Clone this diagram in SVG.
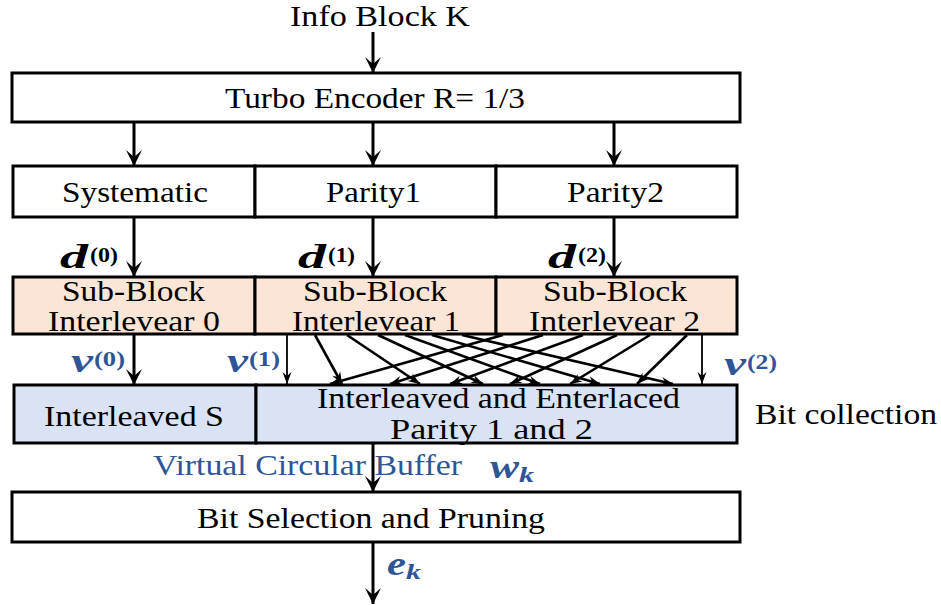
<svg xmlns="http://www.w3.org/2000/svg" width="941" height="605" viewBox="0 0 941 605">
<defs>
<style>
.box{stroke:#000;stroke-width:3;fill:#fff}
.peach{fill:#FBE5D6}
.blue{fill:#DAE3F3}
.t{font-family:"Liberation Serif","Times New Roman",serif;font-size:30px;fill:#000}
.tb{fill:#2F5597}
.m{font-family:"Liberation Serif","Times New Roman",serif;font-style:italic;font-weight:bold;font-size:33px}
.s{font-family:"Liberation Serif","Times New Roman",serif;font-weight:bold;font-size:22px}
.a{stroke:#000;stroke-width:3;fill:none;marker-end:url(#ah)}
.th{stroke:#000;stroke-width:1.8;fill:none;marker-end:url(#as)}
.x{stroke:#000;stroke-width:2.6;fill:none;marker-end:url(#as)}
</style>
<marker id="ah" viewBox="-17 -9 18 18" refX="0" refY="0" markerWidth="18" markerHeight="18" markerUnits="userSpaceOnUse" orient="auto">
<path d="M0,0 L-16,-8 L-9,0 L-16,8 Z" fill="#000"/>
</marker>
<marker id="as" viewBox="-13 -6 14 12" refX="0" refY="0" markerWidth="14" markerHeight="12" markerUnits="userSpaceOnUse" orient="auto">
<path d="M0,0 L-12,-4.5 L-8,0 L-12,4.5 Z" fill="#000"/>
</marker>
</defs>

<text class="t" x="290" y="26" textLength="180" lengthAdjust="spacingAndGlyphs">Info Block K</text>

<g id="turbo">
<rect class="box" x="12" y="73" width="728" height="49"/>
<text class="t" x="225" y="108" textLength="300" lengthAdjust="spacingAndGlyphs">Turbo Encoder R= 1/3</text>
</g>

<g id="systematic">
<rect class="box" x="13" y="166" width="242" height="51"/>
<text class="t" x="62" y="202" textLength="146" lengthAdjust="spacingAndGlyphs">Systematic</text>
</g>
<g id="parity1">
<rect class="box" x="255" y="166" width="241" height="51"/>
<text class="t" x="326" y="202" textLength="95" lengthAdjust="spacingAndGlyphs">Parity1</text>
</g>
<g id="parity2">
<rect class="box" x="496" y="166" width="241" height="51"/>
<text class="t" x="567" y="202" textLength="97" lengthAdjust="spacingAndGlyphs">Parity2</text>
</g>

<g id="sbi0">
<rect class="box peach" x="13" y="277" width="242" height="57"/>
<text class="t" x="62" y="301" textLength="143" lengthAdjust="spacingAndGlyphs">Sub-Block</text>
<text class="t" x="48" y="331" textLength="172" lengthAdjust="spacingAndGlyphs">Interlevear 0</text>
</g>
<g id="sbi1">
<rect class="box peach" x="255" y="277" width="241" height="57"/>
<text class="t" x="303" y="301" textLength="144" lengthAdjust="spacingAndGlyphs">Sub-Block</text>
<text class="t" x="292" y="331" textLength="168" lengthAdjust="spacingAndGlyphs">Interlevear 1</text>
</g>
<g id="sbi2">
<rect class="box peach" x="496" y="277" width="241" height="57"/>
<text class="t" x="543" y="301" textLength="144" lengthAdjust="spacingAndGlyphs">Sub-Block</text>
<text class="t" x="529" y="331" textLength="171" lengthAdjust="spacingAndGlyphs">Interlevear 2</text>
</g>

<g id="interleavedS">
<rect class="box blue" x="14" y="385" width="242" height="58"/>
<text class="t" x="44" y="426" textLength="180" lengthAdjust="spacingAndGlyphs">Interleaved S</text>
</g>
<g id="interlaced">
<rect class="box blue" x="256" y="385" width="481" height="58"/>
<text class="t" x="317" y="408" textLength="363" lengthAdjust="spacingAndGlyphs">Interleaved and Enterlaced</text>
<text class="t" x="390" y="439" textLength="203" lengthAdjust="spacingAndGlyphs">Parity 1 and 2</text>
</g>
<text class="t" x="755" y="424" textLength="182" lengthAdjust="spacingAndGlyphs">Bit collection</text>

<g id="selection">
<rect class="box" x="12" y="492" width="728" height="50"/>
<text class="t" x="197" y="528" textLength="348" lengthAdjust="spacingAndGlyphs">Bit Selection and Pruning</text>
</g>

<text class="t tb" x="153" y="475" textLength="309" lengthAdjust="spacingAndGlyphs">Virtual Circular Buffer</text>

<g id="labels">
<text class="m" x="60" y="268" textLength="28" lengthAdjust="spacingAndGlyphs">d</text>
<text class="s" x="90" y="262" textLength="28" lengthAdjust="spacingAndGlyphs">(0)</text>
<text class="m" x="298" y="268" textLength="28" lengthAdjust="spacingAndGlyphs">d</text>
<text class="s" x="328" y="262" textLength="27" lengthAdjust="spacingAndGlyphs">(1)</text>
<text class="m" x="548" y="268" textLength="28" lengthAdjust="spacingAndGlyphs">d</text>
<text class="s" x="578" y="262" textLength="28" lengthAdjust="spacingAndGlyphs">(2)</text>

<text class="m tb" x="71" y="372" textLength="22" lengthAdjust="spacingAndGlyphs">v</text>
<text class="s tb" x="94" y="366" textLength="31" lengthAdjust="spacingAndGlyphs">(0)</text>
<text class="m tb" x="227" y="372" textLength="21" lengthAdjust="spacingAndGlyphs">v</text>
<text class="s tb" x="249" y="366" textLength="31" lengthAdjust="spacingAndGlyphs">(1)</text>
<text class="m tb" x="724" y="375" textLength="22" lengthAdjust="spacingAndGlyphs">v</text>
<text class="s tb" x="747" y="369" textLength="30" lengthAdjust="spacingAndGlyphs">(2)</text>

<text class="m tb" x="490" y="478" textLength="29" lengthAdjust="spacingAndGlyphs">w</text>
<text class="s tb" x="519" y="482" textLength="15" lengthAdjust="spacingAndGlyphs" font-style="italic">k</text>
<text class="m tb" x="387" y="575" textLength="19" lengthAdjust="spacingAndGlyphs">e</text>
<text class="s tb" x="406" y="579" textLength="15" lengthAdjust="spacingAndGlyphs" font-style="italic">k</text>
</g>

<g id="connectors">
<line class="a" x1="373" y1="32" x2="373" y2="73"/>
<line class="a" x1="134" y1="122" x2="134" y2="166"/>
<line class="a" x1="373" y1="122" x2="373" y2="166"/>
<line class="a" x1="614" y1="122" x2="614" y2="166"/>
<line class="a" x1="134" y1="217" x2="134" y2="277"/>
<line class="a" x1="373" y1="217" x2="373" y2="277"/>
<line class="a" x1="614" y1="217" x2="614" y2="277"/>
<line class="a" x1="134" y1="334" x2="134" y2="385"/>
<line class="th" x1="287" y1="334" x2="287" y2="384"/>
<line class="th" x1="702" y1="334" x2="702" y2="384"/>
<line class="x" x1="315" y1="335" x2="342" y2="384"/>
<line class="x" x1="347" y1="335" x2="420" y2="384"/>
<line class="x" x1="378" y1="335" x2="483" y2="384"/>
<line class="x" x1="405" y1="335" x2="540" y2="384"/>
<line class="x" x1="432" y1="335" x2="600" y2="384"/>
<line class="x" x1="462" y1="335" x2="673" y2="384"/>
<line class="x" x1="503" y1="335" x2="330" y2="384"/>
<line class="x" x1="543" y1="335" x2="390" y2="384"/>
<line class="x" x1="583" y1="335" x2="450" y2="384"/>
<line class="x" x1="617" y1="335" x2="510" y2="384"/>
<line class="x" x1="650" y1="335" x2="570" y2="384"/>
<line class="x" x1="687" y1="335" x2="637" y2="384"/>
<line class="a" x1="373" y1="443" x2="373" y2="492"/>
<line class="a" x1="373" y1="542" x2="373" y2="604"/>
</g>
</svg>
